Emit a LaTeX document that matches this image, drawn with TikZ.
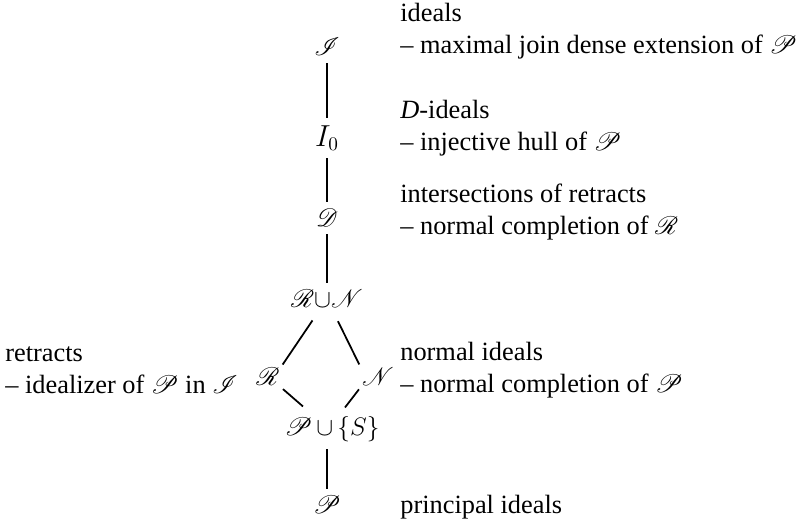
\documentclass[tikz,border=0pt]{standalone}
\usepackage{amsmath, amssymb}
\usepackage{mathrsfs}
\usepackage{fontspec}
\setmainfont{Liberation Serif}
\usepackage{tikz}
\usetikzlibrary{calc, positioning}

\begin{document}
\begin{tikzpicture}[
    elem/.style={inner sep=2pt, font=\fontsize{13.5}{15}\selectfont},
    desc/.style={inner sep=0pt, align=left, anchor=west, font=\fontsize{15}{18.4}\selectfont},
    link/.style={line width=1pt, shorten <=2pt, shorten >=2pt}
]
    \useasboundingbox (0,0) rectangle (15.94,10.4);

    % 1. Các phần tử
    \node[elem] (J)   at (6.54,9.46) {$\mathscr{I}$};
    \node[elem, font=\fontsize{16}{18}\selectfont] (I0) at (6.54,7.64) {$I_0$};
    \node[elem] (D)   at (6.54,6.04) {$\mathscr{D}$};
    \node[elem] (RuN) at (6.54,4.42) {$\mathscr{R}{\cup}\mathscr{N}$};
    \node[elem, inner sep=1pt] (R) at (5.36,2.86) {$\mathscr{R}$};
    \node[elem, inner sep=1pt] (N) at (7.56,2.86) {$\mathscr{N}$};
    \node[elem] (PuS) at (6.64,1.82) {$\mathscr{P}\,{\cup}\,\{S\}$};
    \node[elem] (P)   at (6.54,0.30) {$\mathscr{P}$};

    % 2. Các cạnh
    \draw[link] (J) -- (I0);
    \draw[link] (I0) -- (D);
    \draw[link] (D) -- (RuN);
    \draw[link, shorten <=6pt, shorten >=1pt] (RuN) -- (R.north east);
    \draw[link, shorten <=6pt, shorten >=1pt] (RuN) -- (N.north west);
    \draw[link, shorten <=1pt, shorten >=0pt] (R.south east) -- ($(PuS.north)+(-0.58,0.12)$);
    \draw[link, shorten <=1pt, shorten >=0pt] (N.south west) -- ($(PuS.north)+(0.26,0.1)$);
    \draw[link] (P |- PuS.south) -- (P);

    % 3. Chú thích
    \node[desc] (dJ) at (8.0,9.78)
        {ideals\\-- maximal join dense extension of $\mathscr{P}$};
    \node[desc] (dI0) at (8.0,7.83)
        {\textit{D}-ideals\\-- injective hull of $\mathscr{P}$};
    \node[desc] (dD) at (8.0,6.16)
        {intersections of retracts\\-- normal completion of $\mathscr{R}$};
    \node[desc] (dN) at (8.0,3.00)
        {normal ideals\\-- normal completion of $\mathscr{P}$};
    \node[desc] (dR) at (0.1,3.00)
        {retracts\\-- idealizer of $\mathscr{P}$ in $\mathscr{I}$};
    \node[desc] (dP) at (8.0,0.26) {principal ideals};
\end{tikzpicture}
\end{document}
